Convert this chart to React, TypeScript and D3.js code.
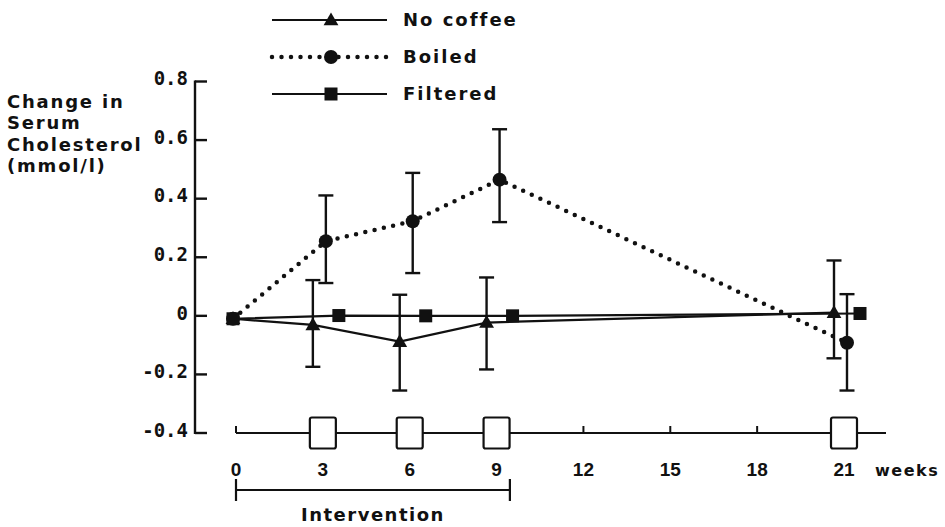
import React from "react";
import * as d3 from "d3";

// Study visits (weeks) and group means of the change in serum cholesterol (mmol/l)
const weeks = [0, 3, 6, 9, 21];
const seriesNames = ["No coffee", "Boiled", "Filtered"];

const noCoffee = [-0.01, -0.031, -0.088, -0.023, 0.011];
const noCoffeeLow = [null, -0.174, -0.255, -0.183, -0.145];
const noCoffeeHigh = [null, 0.122, 0.072, 0.131, 0.189];

const boiled = [-0.01, 0.255, 0.323, 0.465, -0.092];
const boiledLow = [null, 0.112, 0.146, 0.32, -0.255];
const boiledHigh = [null, 0.411, 0.488, 0.637, 0.074];

const filtered = [-0.01, 0.001, 0.0, 0.0, 0.008];

// Axes
const xTicks = [0, 3, 6, 9, 12, 15, 18, 21];
const xTickLabels = ["0", "3", "6", "9", "12", "15", "18", "21"];
const visitBoxes = [3, 6, 9, 21];
const plainTicks = [0, 12, 15, 18];
const yTicks = [0.8, 0.6, 0.4, 0.2, 0, -0.2, -0.4];
const yTickLabels = ["0.8", "0.6", "0.4", "0.2", "0", "-0.2", "-0.4"];
const yTitle = ["Change in", "Serum", "Cholesterol", "(mmol/l)"];
const interventionSpan = [0, 9.46];

const W = 945;
const H = 527;
const INK = "#111";
const TEXT_FONT = "'DejaVu Sans', Verdana, sans-serif";
const NUM_FONT = "'DejaVu Sans Mono', monospace";
const NARROW_FONT = "'Liberation Sans Narrow', 'Liberation Sans', Arial, sans-serif";

type Pt = { w: number; v: number; lo: number | null; hi: number | null };

function toPoints(vals: number[], lo?: (number | null)[], hi?: (number | null)[]): Pt[] {
  return weeks.map((w, i) => ({ w, v: vals[i], lo: lo ? lo[i] : null, hi: hi ? hi[i] : null }));
}

export default function App() {
  const x = d3.scaleLinear().domain([0, 21]).range([236, 844]);
  const y = d3.scaleLinear().domain([-0.4, 0.8]).range([433, 81.5]);

  const axisX = 195;
  const timeAxisY = 433;

  // horizontal dodge (px) of each group around a visit week
  const dodge = [-10, 3, 16];
  const px = (w: number, s: number) => x(w) + (w === 0 ? -3 : dodge[s]);

  const series = [
    toPoints(noCoffee, noCoffeeLow, noCoffeeHigh),
    toPoints(boiled, boiledLow, boiledHigh),
    toPoints(filtered),
  ];

  const lineGen = (s: number) =>
    d3
      .line<Pt>()
      .x((d) => px(d.w, s))
      .y((d) => y(d.v));

  const triangle = d3.symbol().type(d3.symbolTriangle).size(95)();
  const marker = (s: number, cx: number, cy: number, key: string) => {
    if (s === 0) return <path key={key} d={triangle || ""} transform={`translate(${cx},${cy + 1})`} fill={INK} />;
    if (s === 1) return <circle key={key} cx={cx} cy={cy} r={7} fill={INK} />;
    return <rect key={key} x={cx - 6.5} y={cy - 6.5} width={13} height={13} fill={INK} />;
  };

  const lineStyle = (s: number) =>
    s === 1
      ? { stroke: INK, strokeWidth: 4.5, strokeDasharray: "0 9.5", strokeLinecap: "round" as const, fill: "none" }
      : { stroke: INK, strokeWidth: 2.2, fill: "none" };

  const legendRows = [20, 57, 94];

  return (
    <svg
      width={W}
      height={H}
      viewBox={`0 0 ${W} ${H}`}
      style={{ position: "fixed", left: 0, top: 0, background: "#fff" }}
    >
      <rect width={W} height={H} fill="#fff" />

      {/* Legend */}
      {seriesNames.map((name, s) => {
        const ly = legendRows[s];
        return (
          <g key={name}>
            <line x1={272} x2={387} y1={ly} y2={ly} {...lineStyle(s)} />
            {marker(s, 331, ly, `lm${s}`)}
            <text
              x={403}
              y={ly}
              dy="0.36em"
              fontFamily={TEXT_FONT}
              fontWeight={700}
              fontSize={18}
              letterSpacing={2}
              fill={INK}
            >
              {name}
            </text>
          </g>
        );
      })}

      {/* Y axis title */}
      <text fontFamily={TEXT_FONT} fontWeight={700} fontSize={18} letterSpacing={1.8} fill={INK}>
        {yTitle.map((t, i) => (
          <tspan key={t} x={7} y={108 + i * 21.4}>
            {t}
          </tspan>
        ))}
      </text>

      {/* Y axis */}
      <line x1={axisX} x2={axisX} y1={y(0.8) - 1} y2={y(-0.4) + 1} stroke={INK} strokeWidth={2.4} />
      {yTicks.map((t, i) => (
        <g key={t}>
          <line x1={axisX} x2={axisX + 12} y1={y(t)} y2={y(t)} stroke={INK} strokeWidth={2.4} />
          <text
            x={axisX - 7}
            y={y(t)}
            dy="0.2em"
            textAnchor="end"
            fontFamily={NUM_FONT}
            fontWeight={700}
            fontSize={19}
            fill={INK}
          >
            {yTickLabels[i]}
          </text>
        </g>
      ))}

      {/* Time axis with visit boxes */}
      <line x1={x(0)} x2={x(21) + 42} y1={timeAxisY} y2={timeAxisY} stroke={INK} strokeWidth={2} />
      {plainTicks.map((t) => (
        <line key={t} x1={x(t)} x2={x(t)} y1={timeAxisY} y2={timeAxisY - 7} stroke={INK} strokeWidth={2} />
      ))}
      {visitBoxes.map((t) => (
        <rect
          key={t}
          x={x(t) - 13}
          y={timeAxisY - 15.5}
          width={26}
          height={31}
          rx={2}
          fill="#fff"
          stroke={INK}
          strokeWidth={2.2}
        />
      ))}
      {xTicks.map((t, i) => (
        <text
          key={t}
          x={x(t)}
          y={476}
          textAnchor="middle"
          fontFamily={NARROW_FONT}
          fontWeight={700}
          fontSize={19}
          fill={INK}
        >
          {xTickLabels[i]}
        </text>
      ))}
      <text x={875} y={476} fontFamily={TEXT_FONT} fontWeight={700} fontSize={16} letterSpacing={1.5} fill={INK}>
        weeks
      </text>

      {/* Intervention period */}
      <g stroke={INK} strokeWidth={2.2}>
        <line x1={x(interventionSpan[0])} x2={x(interventionSpan[1])} y1={490} y2={490} />
        <line x1={x(interventionSpan[0])} x2={x(interventionSpan[0])} y1={479} y2={501} />
        <line x1={x(interventionSpan[1])} x2={x(interventionSpan[1])} y1={479} y2={501} />
      </g>
      <text
        x={(x(interventionSpan[0]) + x(interventionSpan[1])) / 2}
        y={521}
        textAnchor="middle"
        fontFamily={TEXT_FONT}
        fontWeight={600}
        fontSize={18}
        letterSpacing={1.5}
        fill={INK}
      >
        Intervention
      </text>

      {/* Error bars */}
      {series.map((pts, s) =>
        pts
          .filter((d) => d.lo !== null && d.hi !== null)
          .map((d) => {
            const cx = px(d.w, s);
            return (
              <g key={`e${s}-${d.w}`} stroke={INK} strokeWidth={2.4}>
                <line x1={cx} x2={cx} y1={y(d.hi as number)} y2={y(d.lo as number)} />
                <line x1={cx - 7.5} x2={cx + 7.5} y1={y(d.hi as number)} y2={y(d.hi as number)} />
                <line x1={cx - 7.5} x2={cx + 7.5} y1={y(d.lo as number)} y2={y(d.lo as number)} />
              </g>
            );
          })
      )}

      {/* Group lines */}
      {series.map((pts, s) => (
        <path key={`l${s}`} d={lineGen(s)(pts) || ""} {...lineStyle(s)} />
      ))}

      {/* Markers */}
      {series.map((pts, s) => pts.map((d) => marker(s, px(d.w, s), y(d.v), `m${s}-${d.w}`)))}
    </svg>
  );
}
